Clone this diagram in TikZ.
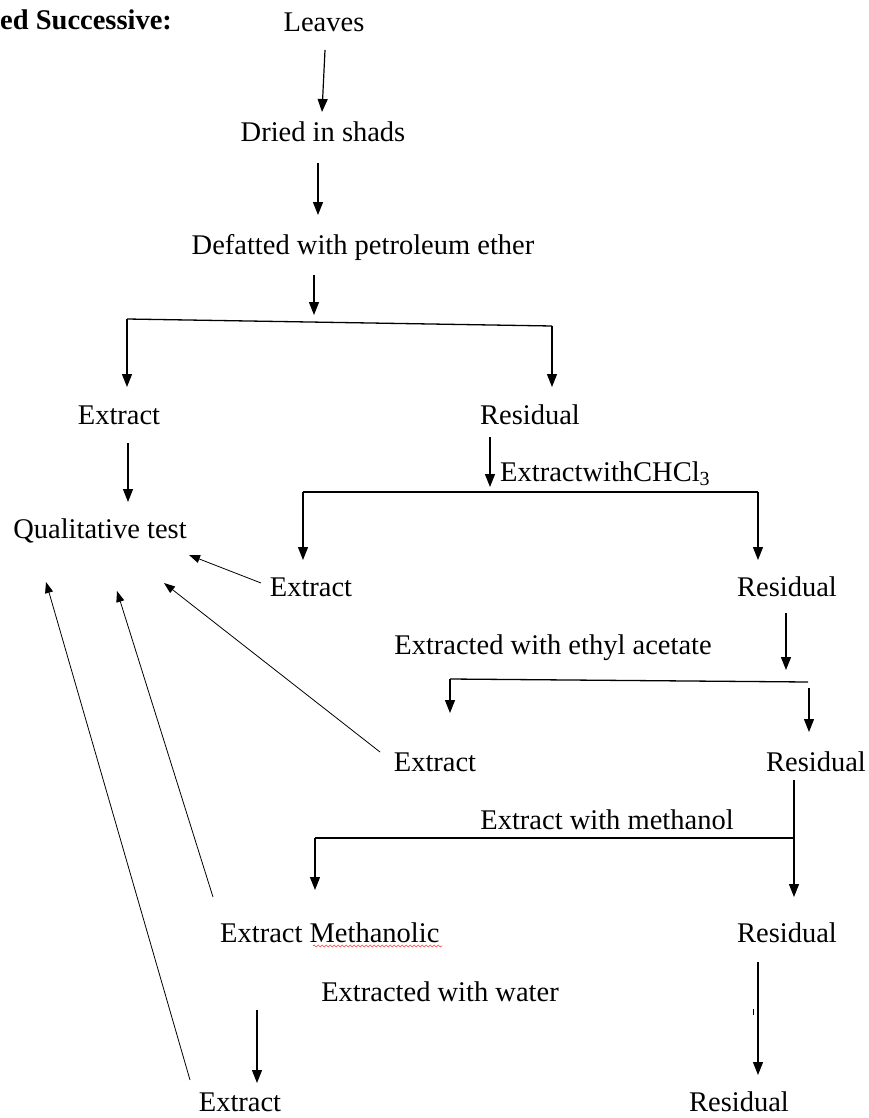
\documentclass[tikz,border=0pt]{standalone}
\usepackage{fontspec}
\setmainfont{Liberation Serif}
\usetikzlibrary{arrows.meta,decorations.pathmorphing}
\begin{document}
\begin{tikzpicture}[x=1pt,y=-1pt,
  lbl/.style={inner sep=0pt,font=\fontsize{28.5}{32}\selectfont,anchor=base},
  arr/.style={line width=1.2pt,-{Triangle[length=13pt,width=10pt]}},
  ln/.style={line width=1.3pt},
  darr/.style={line width=0.8pt,-{Triangle[length=11pt,width=8pt]}},
  spell/.style={draw=red!75!white,line width=0.6pt,decorate,decoration={snake,amplitude=1pt,segment length=4pt}}]
\useasboundingbox (0,0) rectangle (869,1118);
% texts
\node[lbl,anchor=base west,font=\fontsize{28.5}{32}\selectfont\bfseries] (title) at (0,30) {ed Successive:};
\node[lbl] (leaves) at (324,32) {Leaves};
\node[lbl] (dried) at (323,142) {Dried in shads};
\node[lbl] (defat) at (363,254) {Defatted with petroleum ether};
\node[lbl] (ext1) at (119,424) {Extract};
\node[lbl] (res1) at (530,424) {Residual};
\node[lbl,anchor=base west] (chcl) at (500,481) {ExtractwithCHCl\textsubscript{3}};
\node[lbl] (qual) at (100,538) {Qualitative test};
\node[lbl] (ext2) at (311,596) {Extract};
\node[lbl] (res2) at (787,596) {Residual};
\node[lbl] (ethyl) at (553,654) {Extracted with ethyl acetate};
\node[lbl] (ext3) at (435,771) {Extract};
\node[lbl] (res3) at (816,771) {Residual};
\node[lbl] (meth) at (607,829) {Extract with methanol};
\node[lbl,anchor=base west] (extm) at (220,942) {Extract Methanolic};
\node[lbl] (res4) at (787,942) {Residual};
\node[lbl] (water) at (440,1001) {Extracted with water};
\node[lbl] (ext5) at (240,1111) {Extract};
\node[lbl] (res5) at (739,1111) {Residual};
% spell-check underline
\draw[spell] (313,946) -- (442,946);
% coordinates
\coordinate (a1s) at (325,50);  \coordinate (a1e) at (322,112);
\coordinate (a2s) at (318,163); \coordinate (a2e) at (318,215);
\coordinate (a3s) at (314,275); \coordinate (a3e) at (314,315);
\coordinate (b1l) at (127,319); \coordinate (b1r) at (552,326);
\coordinate (b1le) at (127,387); \coordinate (b1re) at (552,387);
\coordinate (e1s) at (128,443); \coordinate (e1e) at (128,502);
\coordinate (r1s) at (490,437); \coordinate (r1e) at (490,487);
\coordinate (b2l) at (303,492); \coordinate (b2r) at (758,492);
\coordinate (b2le) at (303,560); \coordinate (b2re) at (758,560);
\coordinate (r2s) at (786,613); \coordinate (r2e) at (786,670);
\coordinate (b3l) at (450,679); \coordinate (b3r) at (808,682);
\coordinate (b3le) at (450,713);
\coordinate (b3rs) at (809,688); \coordinate (b3re) at (809,732);
\coordinate (r3s) at (794,780); \coordinate (r3m) at (794,838); \coordinate (r3e) at (794,897);
\coordinate (b4l) at (315,838); \coordinate (b4le) at (315,890);
\coordinate (w1s) at (257,1010); \coordinate (w1e) at (257,1083);
\coordinate (w2s) at (758,962); \coordinate (w2e) at (758,1075);
\coordinate (d1s) at (261,583); \coordinate (d1e) at (189,555);
\coordinate (d2s) at (380,752); \coordinate (d2e) at (164,583);
\coordinate (d3s) at (213,897); \coordinate (d3e) at (117,591);
\coordinate (d4s) at (190,1080); \coordinate (d4e) at (46,582);
% connectors
\draw[arr] (a1s) -- (a1e);
\draw[arr] (a2s) -- (a2e);
\draw[arr] (a3s) -- (a3e);
\draw[ln] (b1l) -- (b1r);
\draw[arr] (b1l) -- (b1le);
\draw[arr] (b1r) -- (b1re);
\draw[arr] (e1s) -- (e1e);
\draw[arr] (r1s) -- (r1e);
\draw[ln] (b2l) -- (b2r);
\draw[arr] (b2l) -- (b2le);
\draw[arr] (b2r) -- (b2re);
\draw[arr] (r2s) -- (r2e);
\draw[ln] (b3l) -- (b3r);
\draw[arr] (b3l) -- (b3le);
\draw[arr] (b3rs) -- (b3re);
\draw[arr] (r3s) -- (r3e);
\draw[ln] (r3m) -- (b4l);
\draw[arr] (b4l) -- (b4le);
\draw[arr] (w1s) -- (w1e);
\draw[arr] (w2s) -- (w2e);
\draw[line width=0.8pt] (753,1009) -- (753,1015);
\draw[darr] (d1s) -- (d1e);
\draw[darr] (d2s) -- (d2e);
\draw[darr] (d3s) -- (d3e);
\draw[darr] (d4s) -- (d4e);
\end{tikzpicture}
\end{document}
